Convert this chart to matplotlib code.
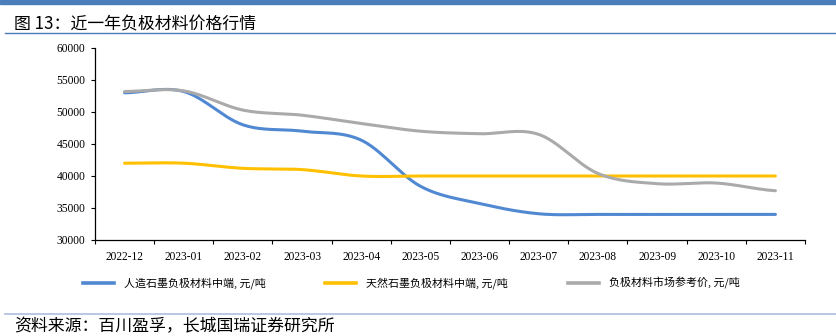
import numpy as np
import matplotlib.pyplot as plt
from matplotlib.lines import Line2D

plt.rcParams['font.family'] = ['Noto Sans CJK SC', 'DejaVu Sans']

months = ['2022-12', '2023-01', '2023-02', '2023-03', '2023-04', '2023-05',
          '2023-06', '2023-07', '2023-08', '2023-09', '2023-10', '2023-11']
artificial = [53000, 53200, 48000, 47000, 45600, 38400, 35700, 34100, 34000, 34000, 34000, 34000]
natural = [42000, 42000, 41200, 41000, 40000, 40000, 40000, 40000, 40000, 40000, 40000, 40000]
market = [53200, 53300, 50300, 49500, 48200, 47000, 46600, 46500, 40400, 38800, 38900, 37700]

names = ['人造石墨负极材料中端, 元/吨', '天然石墨负极材料中端, 元/吨', '负极材料市场参考价, 元/吨']
colors = ['#5088d2', '#ffc000', '#aaaaaa']


def smooth(x, y, n=30):
    # catmull-rom curve through the points, like a spreadsheet "smoothed line"
    x = np.asarray(x, float)
    y = np.asarray(y, float)
    px = np.concatenate([[2 * x[0] - x[1]], x, [2 * x[-1] - x[-2]]])
    py = np.concatenate([[y[0]], y, [y[-1]]])
    xs, ys = [], []
    t = np.linspace(0, 1, n)
    for i in range(1, len(px) - 2):
        for p, out in ((px, xs), (py, ys)):
            p0, p1, p2, p3 = p[i - 1], p[i], p[i + 1], p[i + 2]
            m1 = (p2 - p0) / 6
            m2 = (p3 - p1) / 6
            b = ((1 - t) ** 3 * p1 + 3 * (1 - t) ** 2 * t * (p1 + m1)
                 + 3 * (1 - t) * t ** 2 * (p2 - m2) + t ** 3 * p2)
            out.extend(b)
    return np.array(xs), np.array(ys)


fig = plt.figure(figsize=(8.37, 3.36), dpi=100)
ax = fig.add_axes([95 / 837, 1 - 240 / 336, 710 / 837, 192 / 336])

x = np.arange(len(months))
for vals, c in zip([artificial, natural, market], colors):
    sx, sy = smooth(x, vals)
    ax.plot(sx, sy, color=c, lw=2.2, solid_capstyle='round', zorder=3)

ax.set_xlim(-0.5, len(months) - 0.5)
ax.set_ylim(30000, 60000)
ax.set_yticks(np.arange(30000, 60001, 5000))
ax.set_xticks(np.arange(-0.5, len(months), 1))
ax.set_xticklabels([])
ax.set_xticks(x, minor=True)
ax.set_xticklabels(months, minor=True)
ax.tick_params(axis='x', which='minor', length=0, pad=8)
ax.tick_params(axis='x', which='major', length=3, width=0.8)
ax.tick_params(axis='y', length=3, width=0.8, pad=4)
for lab in ax.get_xticklabels(minor=True) + ax.get_yticklabels():
    lab.set_fontfamily('Liberation Serif')
    lab.set_fontsize(8.3)
ax.spines['top'].set_visible(False)
ax.spines['right'].set_visible(False)
for s in ('left', 'bottom'):
    ax.spines[s].set_linewidth(0.9)

# legend row under the axis
leg_x = [83, 325, 568]
for c, name, lx in zip(colors, names, leg_x):
    fig.add_artist(Line2D([lx / 837, (lx + 31) / 837], [1 - 283 / 336] * 2,
                          color=c, lw=2.6, transform=fig.transFigure))
    fig.text((lx + 41) / 837, 1 - 283 / 336, name, fontsize=7.9,
             va='center', ha='left')

# header and footer decoration
fig.add_artist(plt.Rectangle((0, 1 - 4 / 336), 1, 4 / 336, color='#4a7ebb',
                             transform=fig.transFigure))
fig.text(14 / 837, 1 - 24 / 336, '图 13：近一年负极材料价格行情', fontsize=12.2,
         va='center', ha='left')
fig.add_artist(Line2D([5 / 837, 1], [1 - 33 / 336] * 2, color='#4a7ebb', lw=1,
                      transform=fig.transFigure))
fig.add_artist(Line2D([5 / 837, 1], [1 - 314 / 336] * 2, color='#aabde0', lw=1.2,
                      transform=fig.transFigure))
fig.text(14 / 837, 1 - 326 / 336, '资料来源：百川盈孚，长城国瑞证券研究所', fontsize=12.2,
         va='center', ha='left')

fig.savefig('out.png', dpi=100)
